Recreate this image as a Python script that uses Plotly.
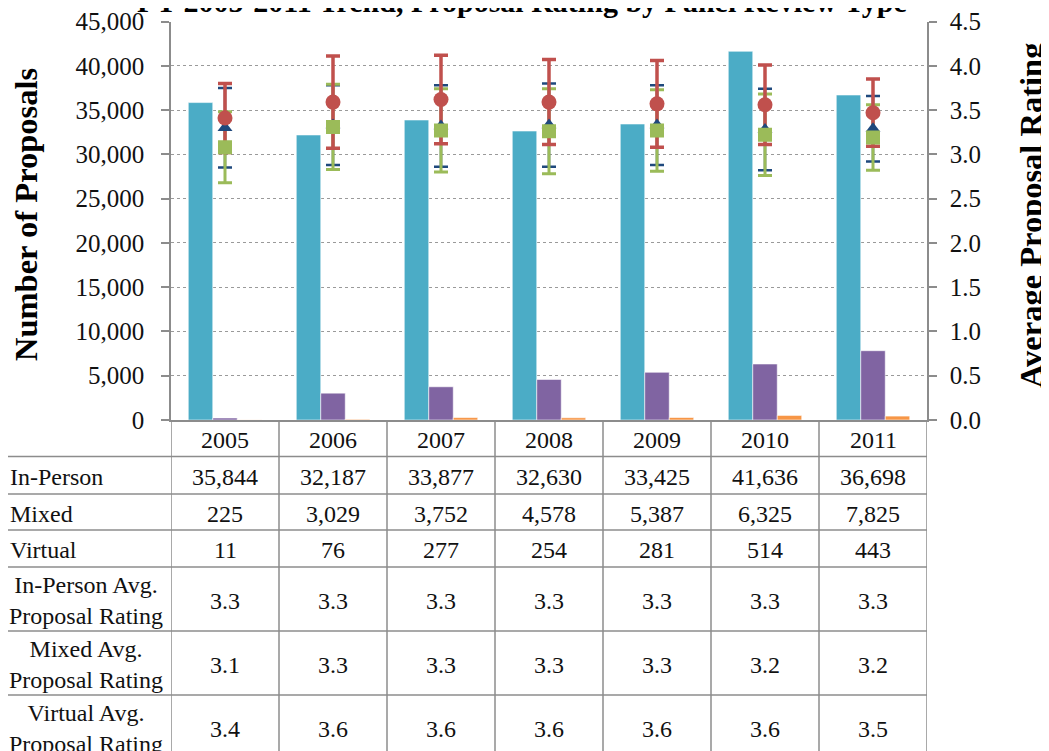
import plotly.graph_objects as go

# ---------------- data ----------------
years = ["2005", "2006", "2007", "2008", "2009", "2010", "2011"]
in_person = [35844, 32187, 33877, 32630, 33425, 41636, 36698]
mixed = [225, 3029, 3752, 4578, 5387, 6325, 7825]
virtual = [11, 76, 277, 254, 281, 514, 443]

in_person_rating = [3.30, 3.33, 3.32, 3.33, 3.33, 3.28, 3.29]
in_person_err = [0.45, 0.45, 0.46, 0.47, 0.45, 0.46, 0.37]
mixed_rating = [3.08, 3.31, 3.27, 3.26, 3.27, 3.22, 3.19]
mixed_err = [0.40, 0.48, 0.47, 0.48, 0.46, 0.46, 0.37]
virtual_rating = [3.41, 3.59, 3.62, 3.59, 3.57, 3.56, 3.47]
virtual_err = [0.39, 0.52, 0.50, 0.48, 0.49, 0.45, 0.38]

row_labels = ["In-Person", "Mixed", "Virtual",
              "In-Person Avg.<br>Proposal Rating",
              "Mixed Avg.<br>Proposal Rating",
              "Virtual Avg.<br>Proposal Rating"]
title_text = "FY 2005-2011 Trend, Proposal Rating by Panel Review Type"
left_title = "Number of Proposals"
right_title = "Average Proposal Rating"

# ---------------- style ----------------
W, H = 1049, 751
OFF = 8  # page body margin
FONT = "Liberation Serif, Times New Roman, serif"
C_INP, C_MIX, C_VIR = "#4BACC6", "#8064A2", "#F79646"
C_INP_R, C_MIX_R, C_VIR_R = "#1F497D", "#9BBB59", "#C0504D"
GRID = "#9a9a9a"
LINE = "#8c8c8c"

plot_left, plot_right, plot_top, plot_bottom = 171, 927, 21.5, 420
table_row_heights = [36.5, 37.5, 36, 37, 64, 64, 64]


def px(xp):
    return (xp - OFF) / W


def py(yp):
    return 1 - (yp - OFF) / H


fig = go.Figure()

# bars
for name, vals, col in [("In-Person", in_person, C_INP),
                        ("Mixed", mixed, C_MIX),
                        ("Virtual", virtual, C_VIR)]:
    fig.add_trace(go.Bar(x=years, y=vals, name=name, marker_color=col,
                         marker_line=dict(color="rgba(255,255,255,0.7)", width=0.8),
                         showlegend=False))

# error bars first, then markers on top
rating_series = [
    ("In-Person Avg. Proposal Rating", in_person_rating, in_person_err, C_INP_R, "triangle-up", 13, 2.5),
    ("Mixed Avg. Proposal Rating", mixed_rating, mixed_err, C_MIX_R, "square", 14, 3),
    ("Virtual Avg. Proposal Rating", virtual_rating, virtual_err, C_VIR_R, "circle", 15, 3.5),
]
for name, vals, errs, col, sym, size, thick in rating_series:
    fig.add_trace(go.Scatter(x=years, y=vals, yaxis="y2", mode="markers",
                             marker=dict(size=2, opacity=0, color=col),
                             error_y=dict(type="data", array=errs, color=col,
                                          thickness=thick, width=7),
                             showlegend=False, hoverinfo="skip"))
for name, vals, errs, col, sym, size, thick in rating_series:
    fig.add_trace(go.Scatter(x=years, y=vals, yaxis="y2", mode="markers", name=name,
                             marker=dict(symbol=sym, size=size, color=col,
                                         line=dict(width=0)),
                             showlegend=False))

# ---------------- table beneath the chart ----------------
shapes = []
annotations = []

bounds = [plot_bottom]
for h in table_row_heights:
    bounds.append(bounds[-1] + h)

# vertical column lines (category boundaries on the x axis)
for k in range(len(years) + 1):
    shapes.append(dict(type="line", xref="x", yref="paper",
                       x0=k - 0.5, x1=k - 0.5, y0=py(plot_bottom), y1=py(H + 40),
                       line=dict(color=LINE, width=1.5), layer="above"))
# horizontal row lines
for b in bounds[1:-1]:
    shapes.append(dict(type="line", xref="paper", yref="paper",
                       x0=px(5), x1=px(plot_right), y0=py(b), y1=py(b),
                       line=dict(color=LINE, width=1.5), layer="above"))

tfont = dict(family=FONT, size=24, color="#111111")

# header
hc = (bounds[0] + bounds[1]) / 2 + 1.5
for i, yr in enumerate(years):
    annotations.append(dict(x=i, xref="x", y=py(hc), yref="paper", text=yr,
                            showarrow=False, font=tfont, xanchor="center", yanchor="middle"))

table_rows = [
    [f"{v:,}" for v in in_person],
    [f"{v:,}" for v in mixed],
    [f"{v:,}" for v in virtual],
    [f"{v:.1f}" for v in in_person_rating],
    [f"{v:.1f}" for v in mixed_rating],
    [f"{v:.1f}" for v in virtual_rating],
]
for r, (lab, row) in enumerate(zip(row_labels, table_rows)):
    c = (bounds[r + 1] + bounds[r + 2]) / 2 + 1.5
    for i, txt in enumerate(row):
        annotations.append(dict(x=i, xref="x", y=py(c), yref="paper", text=txt,
                                showarrow=False, font=tfont, xanchor="center", yanchor="middle"))
    if "<br>" in lab:
        annotations.append(dict(x=px(86), xref="paper", y=py(c), yref="paper", text=lab,
                                showarrow=False, font=tfont, xanchor="center", yanchor="middle",
                                align="center"))
    else:
        annotations.append(dict(x=px(8), xref="paper", y=py(c), yref="paper", text=lab,
                                showarrow=False, font=tfont, xanchor="left", yanchor="middle",
                                align="left"))

# titles
annotations.append(dict(x=px(522), y=py(20), xref="paper", yref="paper", text=title_text,
                        showarrow=False, xanchor="center", yanchor="bottom",
                        font=dict(family=FONT, size=30, color="#000000", weight="bold")))
annotations.append(dict(x=px(26), y=py(215), xref="paper", yref="paper", text=left_title,
                        showarrow=False, textangle=-90, xanchor="center", yanchor="middle",
                        font=dict(family=FONT, size=32.5, color="#000000", weight="bold")))
annotations.append(dict(x=px(1031), y=py(216), xref="paper", yref="paper", text=right_title,
                        showarrow=False, textangle=-90, xanchor="center", yanchor="middle",
                        font=dict(family=FONT, size=32.5, color="#000000", weight="bold")))

tick_font = dict(family=FONT, size=25, color="#111111")

fig.update_layout(
    width=W, height=H, autosize=False,
    margin=dict(l=0, r=0, t=0, b=0, pad=0, autoexpand=False),
    paper_bgcolor="white", plot_bgcolor="white",
    barmode="group", bargap=0.32, bargroupgap=0,
    font=dict(family=FONT, color="#111111"),
    xaxis=dict(domain=[px(plot_left), px(plot_right)], type="category",
               range=[-0.5, len(years) - 0.5], automargin=False,
               showticklabels=False, ticks="", showgrid=False,
               showline=True, linecolor=LINE, linewidth=1.5, zeroline=False),
    yaxis=dict(domain=[py(plot_bottom), py(plot_top)], range=[0, 45000],
               tickvals=list(range(0, 45001, 5000)), tickformat=",", automargin=False,
               showgrid=True, gridcolor=GRID, griddash="dot", gridwidth=1,
               showline=True, linecolor=LINE, linewidth=1.5, zeroline=False,
               ticks="outside", ticklen=8, tickcolor=LINE, tickwidth=1.5,
               tickfont=tick_font, ticklabelstandoff=12),
    yaxis2=dict(overlaying="y", side="right", anchor="x", range=[0, 4.5],
                tickvals=[i * 0.5 for i in range(10)], tickformat=".1f", automargin=False,
                showgrid=False, showline=True, linecolor=LINE, linewidth=1.5,
                zeroline=False, ticks="outside", ticklen=8, tickcolor=LINE,
                tickwidth=1.5, tickfont=tick_font, ticklabelstandoff=8),
    shapes=shapes,
    annotations=annotations,
)

fig.write_html("out.html")
